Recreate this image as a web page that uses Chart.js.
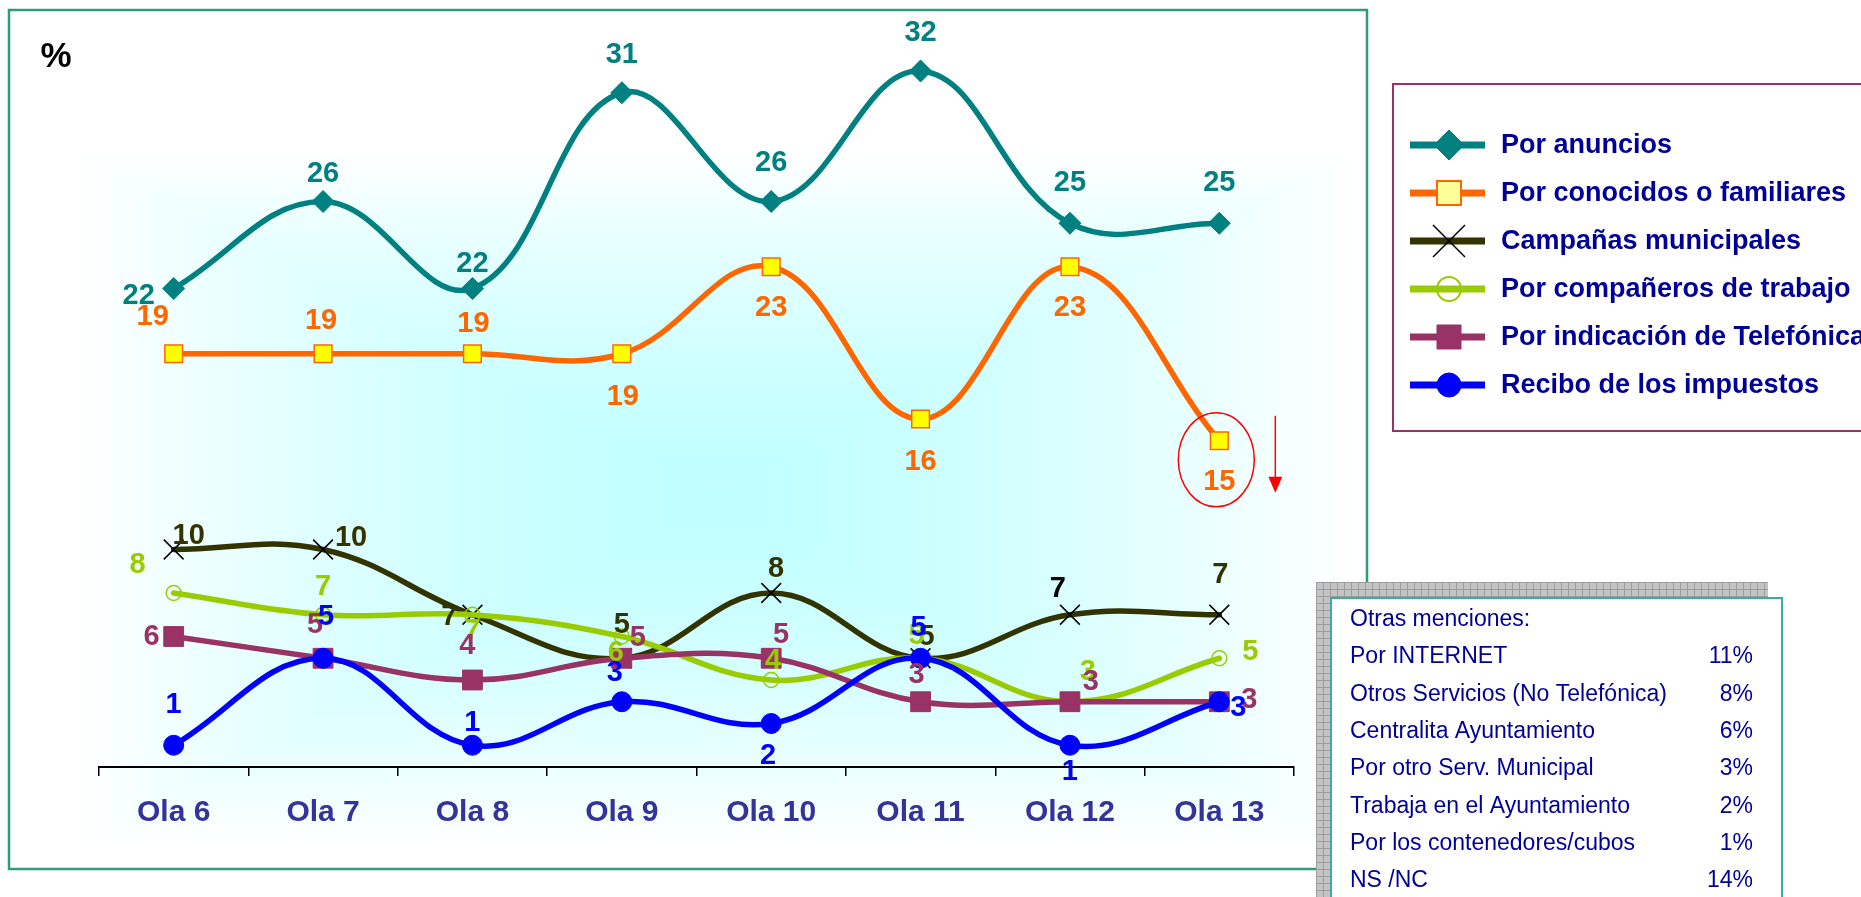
<!DOCTYPE html>
<html lang="es">
<head>
<meta charset="utf-8">
<title>Medios de conocimiento</title>
<script src="https://cdn.jsdelivr.net/npm/chart.js"></script>
<style>
  html, body { margin: 0; padding: 0; background: #fff; overflow: hidden; }
  canvas { display: block; }
</style>
</head>
<body>
<canvas id="myChart" width="1861" height="897"></canvas>
<script>
'use strict'

// categorias (olas)
const olas = ['Ola 6', 'Ola 7', 'Ola 8', 'Ola 9', 'Ola 10', 'Ola 11', 'Ola 12', 'Ola 13'];

// valores en % por ola
const porAnuncios = [22, 26, 22, 31, 26, 32, 25, 25];
const porConocidos = [19, 19, 19, 19, 23, 16, 23, 15];
const campanasMunicipales = [10, 10, 7, 5, 8, 5, 7, 7];
const porCompaneros = [8, 7, 7, 6, 4, 5, 3, 5];
const porTelefonica = [6, 5, 4, 5, 5, 3, 3, 3];
const reciboImpuestos = [1, 5, 1, 3, 2, 5, 1, 3];

// cuadro "Otras menciones"
const otrasTitulo = 'Otras menciones:';
const otrasLabels = ['Por INTERNET', 'Otros Servicios (No Telefónica)', 'Centralita Ayuntamiento',
  'Por otro Serv. Municipal', 'Trabaja en el Ayuntamiento', 'Por los contenedores/cubos', 'NS /NC'];
const otrasValues = [11, 8, 6, 3, 2, 1, 14];

const FONT = '"Liberation Sans", Arial, Helvetica, sans-serif';

// desplazamiento de cada etiqueta respecto a su punto (px)
const labelShift = [
  [[-35, 7], [0, -28], [0, -25], [0, -38], [0, -39], [0, -38], [0, -40], [0, -40]],
  [[-21, -37], [-2, -33], [1, -30], [1, 43], [0, 41], [0, 43], [0, 41], [0, 41]],
  [[15, -14], [28, -12], [-23, 2], [0, -33], [5, -24], [6, -21], [-12, -26], [1, -40]],
  [[-36, -28], [0, -28], [0, 16], [-6, 16], [2, -19], [-4, -22], [18, -30], [31, -6]],
  [[-22, 0], [-8, -33], [-5, -34], [16, -20], [10, -23], [-4, -27], [21, -20], [30, -2]],
  [[0, -40], [3, -41], [0, -22], [-7, -29], [-3, 32], [-2, -30], [0, 27], [19, 6]]
];

// marcadores de la leyenda (mas grandes que en el grafico)
const legendMarkers = [
  { style: 'rectRot', r: 15, fill: '#008080', stroke: '#008080', lw: 1 },
  { style: 'rect', r: 12, fill: '#FFFF99', stroke: '#FF6600', lw: 2 },
  { style: 'crossRot', r: 16, fill: null, stroke: '#000000', lw: 1.5 },
  { style: 'circle', r: 12, fill: null, stroke: '#99CC00', lw: 2 },
  { style: 'rect', r: 12, fill: '#993366', stroke: '#993366', lw: 1 },
  { style: 'circle', r: 12, fill: '#0000FF', stroke: '#0000FF', lw: 1 }
];

function drawMarker(c, m, x, y) {
  c.save();
  c.beginPath();
  if (m.style === 'rectRot') {
    c.moveTo(x, y - m.r); c.lineTo(x + m.r, y); c.lineTo(x, y + m.r); c.lineTo(x - m.r, y);
    c.closePath();
  } else if (m.style === 'rect') {
    c.rect(x - m.r, y - m.r, 2 * m.r, 2 * m.r);
  } else if (m.style === 'circle') {
    c.arc(x, y, m.r, 0, Math.PI * 2);
  } else {
    c.moveTo(x - m.r, y - m.r); c.lineTo(x + m.r, y + m.r);
    c.moveTo(x + m.r, y - m.r); c.lineTo(x - m.r, y + m.r);
  }
  if (m.fill) { c.fillStyle = m.fill; c.fill(); }
  c.strokeStyle = m.stroke;
  c.lineWidth = m.lw;
  c.stroke();
  c.restore();
}

// degradado rectangular "desde el centro" (como el de Excel)
let degradado = null;
function crearDegradado() {
  const L = 75, T = 150, R = 1355, B = 846;
  const w = R - L, h = B - T;
  const cv = document.createElement('canvas');
  cv.width = w; cv.height = h;
  const c = cv.getContext('2d');
  const img = c.createImageData(w, h);
  const cx = w / 2, cy = h / 2;
  for (let y = 0; y < h; y++) {
    for (let x = 0; x < w; x++) {
      const t = Math.max(Math.abs(x - cx) / cx, Math.abs(y - cy) / cy);
      const k = Math.pow(Math.min(t, 1), 1.5);
      const i = (y * w + x) * 4;
      img.data[i] = Math.round(192 + 63 * k);
      img.data[i + 1] = 255;
      img.data[i + 2] = 255;
      img.data[i + 3] = 255;
    }
  }
  c.putImageData(img, 0, 0);
  return { cv: cv, x: L, y: T };
}

const fondo = {
  id: 'fondo',
  beforeDraw(chart) {
    const c = chart.ctx;
    c.save();
    c.fillStyle = '#ffffff';
    c.fillRect(0, 0, chart.width, chart.height);

    if (!degradado) degradado = crearDegradado();
    c.drawImage(degradado.cv, degradado.x, degradado.y);

    // marco
    c.strokeStyle = '#2e9b7b';
    c.lineWidth = 2.5;
    c.strokeRect(9, 10, 1358, 859);

    c.fillStyle = '#000000';
    c.font = 'bold 35px ' + FONT;
    c.textAlign = 'center';
    c.textBaseline = 'middle';
    c.fillText('%', 56, 57);
    c.restore();
  }
};

const etiquetas = {
  id: 'etiquetas',
  afterDatasetsDraw(chart) {
    const c = chart.ctx;
    c.save();
    c.font = 'bold 29px ' + FONT;
    c.textAlign = 'center';
    c.textBaseline = 'middle';
    chart.data.datasets.forEach((ds, i) => {
      const meta = chart.getDatasetMeta(i);
      meta.data.forEach((pt, j) => {
        const s = labelShift[i][j];
        c.fillStyle = (i === 2 && j === 6) ? '#000000' : ds.labelColor;
        c.fillText(String(ds.data[j]), pt.x + s[0], pt.y + s[1]);
      });
    });

    // llamada de atencion sobre la ultima ola
    const last = chart.getDatasetMeta(1).data[olas.length - 1];
    c.strokeStyle = '#FF0000';
    c.lineWidth = 1.5;
    c.beginPath();
    c.ellipse(last.x - 3, last.y + 19, 38, 47, 0, 0, Math.PI * 2);
    c.stroke();
    const ax = last.x + 56;
    c.beginPath();
    c.moveTo(ax, last.y - 25);
    c.lineTo(ax, last.y + 38);
    c.stroke();
    c.fillStyle = '#FF0000';
    c.beginPath();
    c.moveTo(ax - 7, last.y + 36);
    c.lineTo(ax + 7, last.y + 36);
    c.lineTo(ax, last.y + 52);
    c.closePath();
    c.fill();
    c.restore();
  },
  afterDraw(chart) {
    const c = chart.ctx;
    c.save();

    // leyenda
    c.fillStyle = '#ffffff';
    c.fillRect(1393, 84, 480, 347);
    c.strokeStyle = '#993366';
    c.lineWidth = 2;
    c.strokeRect(1393, 84, 480, 347);
    c.font = 'bold 27px ' + FONT;
    c.textAlign = 'left';
    c.textBaseline = 'middle';
    chart.data.datasets.forEach((ds, i) => {
      const y = 145 + i * 48;
      c.strokeStyle = ds.borderColor;
      c.lineWidth = 7;
      c.beginPath();
      c.moveTo(1410, y);
      c.lineTo(1485, y);
      c.stroke();
      drawMarker(c, legendMarkers[i], 1449, y);
      c.fillStyle = '#000099';
      c.fillText(ds.label, 1501, y + 1);
    });

    // cuadro otras menciones: sombra con trama
    c.fillStyle = '#c4c4c4';
    c.fillRect(1316, 582, 452, 320);
    c.strokeStyle = '#9c9c9c';
    c.lineWidth = 1;
    c.beginPath();
    for (let x = 1316.5; x < 1768; x += 7) { c.moveTo(x, 582); c.lineTo(x, 897); }
    for (let y = 582.5; y < 897; y += 7) { c.moveTo(1316, y); c.lineTo(1768, y); }
    c.stroke();

    c.fillStyle = '#ffffff';
    c.fillRect(1331, 598, 451, 310);
    c.strokeStyle = '#3aabab';
    c.lineWidth = 2;
    c.strokeRect(1331, 598, 451, 310);

    c.fillStyle = '#000099';
    c.font = '23px ' + FONT;
    c.textBaseline = 'middle';
    c.textAlign = 'left';
    c.fillText(otrasTitulo, 1350, 620);
    otrasLabels.forEach((t, i) => {
      const y = 657 + i * 37.3;
      c.textAlign = 'left';
      c.fillText(t, 1350, y);
      c.textAlign = 'right';
      c.fillText(otrasValues[i] + '%', 1753, y);
    });
    c.restore();
  }
};

function serie(label, data, color, extra) {
  return Object.assign({
    label: label,
    data: data,
    borderColor: color,
    backgroundColor: color,
    pointBackgroundColor: color,
    pointBorderColor: color,
    labelColor: color,
    borderWidth: 5.5,
    borderJoinStyle: 'round',
    borderCapStyle: 'round',
    tension: 0.4,
    fill: false
  }, extra);
}

let ctx = document.getElementById('myChart');

new Chart(ctx, {
  type: 'line',
  data: {
    labels: olas,
    datasets: [
      serie('Por anuncios', porAnuncios, '#008080',
        { pointStyle: 'rectRot', pointRadius: 11, pointBorderWidth: 1, order: 6 }),
      serie('Por conocidos o familiares', porConocidos, '#FF6600',
        { pointStyle: 'rect', pointRadius: 12.5, pointBorderWidth: 1.5, pointBackgroundColor: '#FFFF00', order: 5 }),
      serie('Campañas municipales', campanasMunicipales, '#333300',
        { pointStyle: 'crossRot', pointRadius: 14, pointBorderWidth: 1.5, pointBorderColor: '#000000', order: 4 }),
      serie('Por compañeros de trabajo', porCompaneros, '#99CC00',
        { pointStyle: 'circle', pointRadius: 7.5, pointBorderWidth: 1.5, pointBackgroundColor: 'rgba(0,0,0,0)', order: 3 }),
      serie('Por indicación de Telefónica', porTelefonica, '#993366',
        { pointStyle: 'rect', pointRadius: 14, pointBorderWidth: 1, order: 2 }),
      serie('Recibo de los impuestos', reciboImpuestos, '#0000FF',
        { pointStyle: 'circle', pointRadius: 10, pointBorderWidth: 1, order: 1 })
    ]
  },
  options: {
    responsive: false,
    animation: false,
    devicePixelRatio: 1,
    events: [],
    layout: { padding: { left: 99, right: 567, top: 27.5, bottom: 0 } },
    plugins: {
      legend: { display: false },
      tooltip: { enabled: false }
    },
    scales: {
      x: {
        offset: true,
        afterFit(scale) { scale.height = 130; },
        border: { display: true, color: '#000000', width: 2 },
        grid: { display: true, offset: true, drawOnChartArea: false, drawTicks: true, tickLength: 9, color: '#000000', lineWidth: 1.5 },
        ticks: { color: '#333399', padding: 19, font: { family: FONT, size: 30, weight: 'bold' } }
      },
      y: {
        display: false,
        min: 0,
        max: 34
      }
    }
  },
  plugins: [fondo, etiquetas]
});
</script>
</body>
</html>
